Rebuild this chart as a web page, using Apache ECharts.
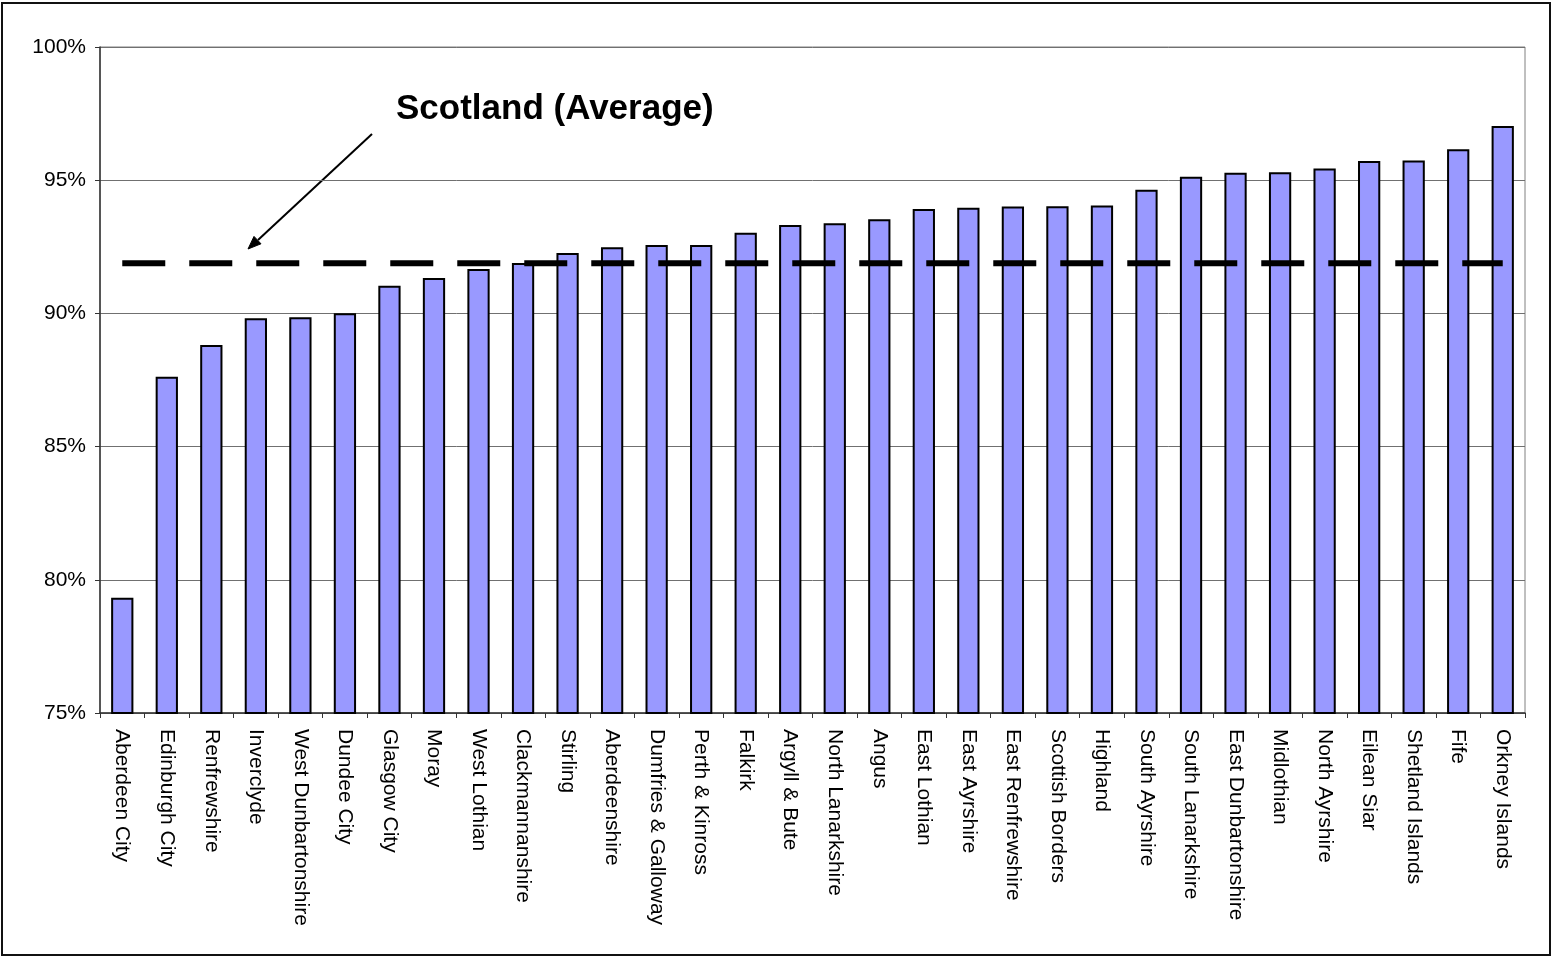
<!DOCTYPE html>
<html>
<head>
<meta charset="utf-8">
<title>Scotland council areas</title>
<script src="https://cdn.jsdelivr.net/npm/echarts@6/dist/echarts.min.js"></script>
<style>
  html, body { margin: 0; padding: 0; background: #fff; }
  #chart { width: 1551px; height: 958px; }
</style>
</head>
<body>
<div id="chart"></div>
<script>
// Council areas, sorted from lowest to highest rate
const categories = [
  'Aberdeen City', 'Edinburgh City', 'Renfrewshire', 'Inverclyde',
  'West Dunbartonshire', 'Dundee City', 'Glasgow City', 'Moray',
  'West Lothian', 'Clackmannanshire', 'Stirling', 'Aberdeenshire',
  'Dumfries & Galloway', 'Perth & Kinross', 'Falkirk', 'Argyll & Bute',
  'North Lanarkshire', 'Angus', 'East Lothian', 'East Ayrshire',
  'East Renfrewshire', 'Scottish Borders', 'Highland', 'South Ayrshire',
  'South Lanarkshire', 'East Dunbartonshire', 'Midlothian', 'North Ayrshire',
  'Eilean Siar', 'Shetland Islands', 'Fife', 'Orkney Islands'
];

// Rate per council area (%)
const values = [
  79.33, 87.62, 88.81, 89.82,
  89.86, 90.01, 91.04, 91.33,
  91.67, 91.89, 92.27, 92.48,
  92.57, 92.57, 93.03, 93.32,
  93.38, 93.53, 93.92, 93.97,
  94.01, 94.02, 94.05, 94.64,
  95.13, 95.28, 95.30, 95.44,
  95.72, 95.74, 96.16, 97.03
];

// Scotland average (%)
const scotlandAverage = 91.88;

// Value axis ticks
const yMin = 75;
const yMax = 100;
const yStep = 5;

const annotationText = 'Scotland (Average)';

const chart = echarts.init(document.getElementById('chart'), null, { renderer: 'canvas' });

const FONT = 'Arial, "Liberation Sans", sans-serif';

chart.setOption({
  animation: false,
  backgroundColor: '#ffffff',
  grid: {
    left: 100,
    right: 26,
    top: 47,
    bottom: 245,
    show: true,
    borderColor: '#808080',
    borderWidth: 1,
    backgroundColor: 'transparent'
  },
  xAxis: {
    type: 'category',
    data: categories,
    boundaryGap: true,
    axisLine: { show: true, lineStyle: { color: '#333333', width: 1.5 } },
    axisTick: { show: true, alignWithLabel: false, length: 5, lineStyle: { color: '#333333', width: 1 } },
    axisLabel: {
      interval: 0,
      rotate: -90,
      margin: 16,
      color: '#000000',
      fontFamily: FONT,
      fontSize: 21
    },
    splitLine: { show: false }
  },
  yAxis: {
    type: 'value',
    min: yMin,
    max: yMax,
    interval: yStep,
    axisLine: { show: true, lineStyle: { color: '#333333', width: 1.5 } },
    axisTick: { show: true, inside: false, length: 5, lineStyle: { color: '#333333', width: 1 } },
    axisLabel: {
      margin: 14,
      color: '#000000',
      fontFamily: FONT,
      fontSize: 21,
      formatter: '{value}%'
    },
    splitLine: { show: true, lineStyle: { color: '#707070', width: 1 } }
  },
  series: [
    {
      name: 'Rate',
      type: 'bar',
      data: values,
      barWidth: '50%',
      itemStyle: {
        color: '#9999ff',
        borderColor: '#000000',
        borderWidth: 2
      },
      z: 2
    },
    {
      name: 'Scotland (Average)',
      type: 'line',
      data: categories.map(() => scotlandAverage),
      symbol: 'none',
      lineStyle: {
        color: '#000000',
        width: 6,
        type: [43, 24],
        cap: 'butt'
      },
      z: 3
    }
  ],
  graphic: [
    {
      type: 'rect',
      shape: { x: 2, y: 3, width: 1548, height: 952 },
      style: { fill: 'none', stroke: '#111111', lineWidth: 2 },
      silent: true
    },
    {
      type: 'text',
      x: 396,
      y: 109,
      style: {
        text: annotationText,
        fontFamily: FONT,
        fontWeight: 'bold',
        fontSize: 35,
        fill: '#000000',
        textVerticalAlign: 'middle'
      }
    },
    {
      type: 'line',
      shape: { x1: 372, y1: 134, x2: 258, y2: 240 },
      style: { stroke: '#000000', lineWidth: 2 }
    },
    {
      type: 'polygon',
      shape: { points: [[248, 249], [261, 243.8], [254, 236.4]] },
      style: { fill: '#000000', stroke: '#000000', lineWidth: 1 }
    }
  ]
});
</script>
</body>
</html>
